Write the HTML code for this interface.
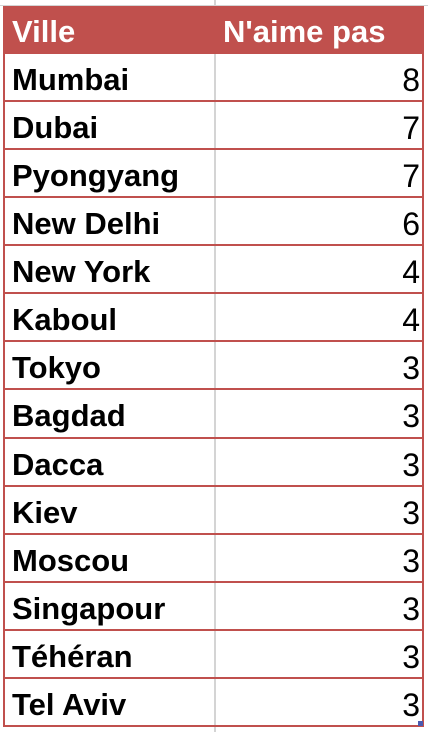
<!DOCTYPE html>
<html><head><meta charset="utf-8"><style>
body{margin:0;width:428px;height:732px;background:#fff;position:relative;overflow:hidden;font-family:"Liberation Sans",Arial,sans-serif;}
.vl{position:absolute;top:0;width:2px;height:732px;background:#d4d4d4;left:214px}
.hdr{position:absolute;left:3px;top:6px;width:421px;height:48px;background:#C0504D;}
.row{position:absolute;left:3px;width:417px;border:2px solid #C0504D;border-top:none;}
.t{position:absolute;font-weight:bold;font-size:31px;line-height:1;}
</style></head><body>
<div class="vl"></div>
<div style="position:absolute;left:0;top:5px;width:428px;height:1px;background:#d4d4d4"></div>
<div class="hdr">
<span class="t" style="left:9px;top:10px;color:#fff">Ville</span>
<span class="t" style="left:220px;top:10px;color:#fff">N'aime pas</span>
</div>
<div id="rows"></div>
<div style="position:absolute;left:418px;top:721px;width:5px;height:5px;background:#4a5ab0"></div>
<script>
const villes=["Mumbai","Dubai","Pyongyang","New Delhi","New York","Kaboul","Tokyo","Bagdad","Dacca","Kiev","Moscou","Singapour","Téhéran","Tel Aviv"];
const valeurs=[8,7,7,6,4,4,3,3,3,3,3,3,3,3];
const c=document.getElementById('rows');
villes.forEach((v,i)=>{
 const top=Math.round(54+i*48.07);
 const next=Math.round(54+(i+1)*48.07);
 const r=document.createElement('div');
 r.className='row';
 r.style.top=top+'px';
 r.style.height=(next-top-2)+'px';
 
 
 const a=document.createElement('span');
 a.className='t';a.style.left='7px';a.style.top='10px';a.textContent=v;
 
 
 const b=document.createElement('span');
 b.className='t';b.style.right='2px';b.style.top='10px';b.style.fontWeight='normal';b.style.fontSize='32px';b.textContent=valeurs[i];
 
 
 r.appendChild(a);r.appendChild(b);c.appendChild(r);
});
</script>
</body></html>
